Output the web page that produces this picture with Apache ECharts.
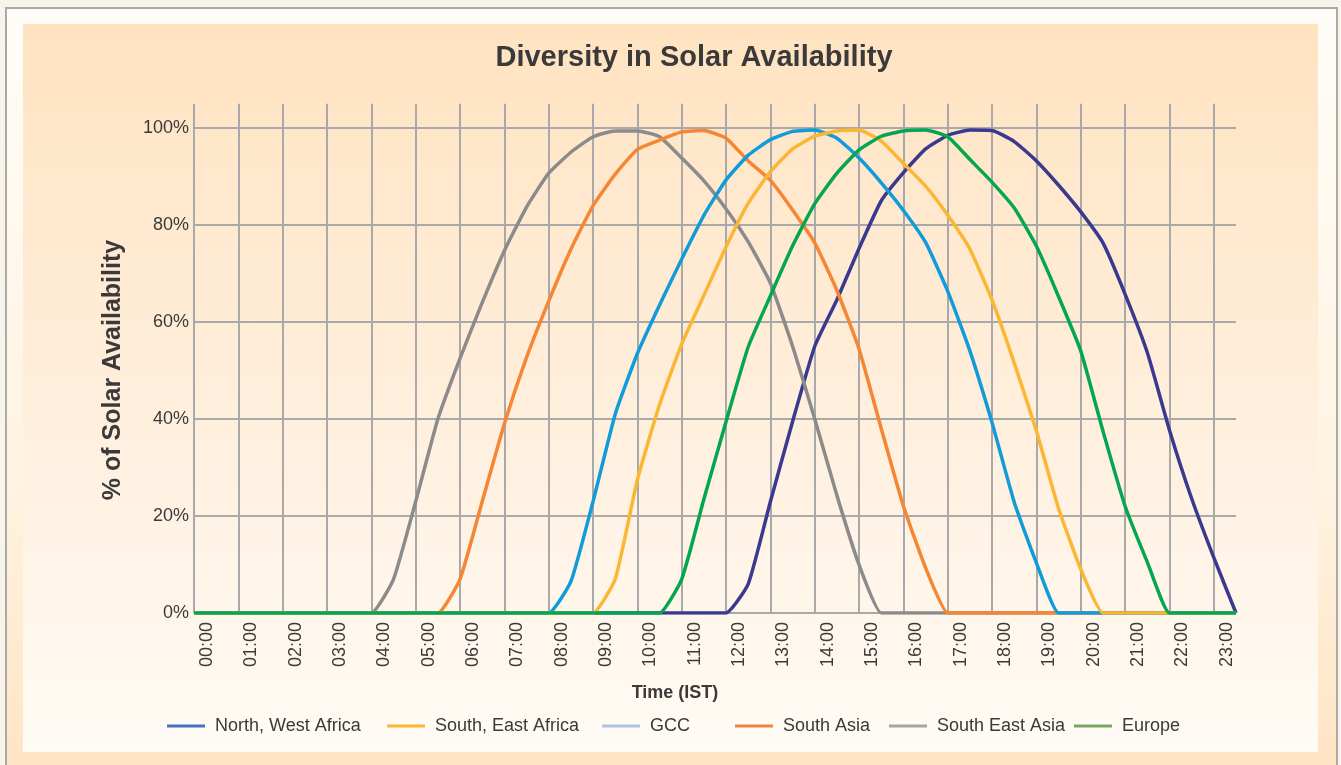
<!DOCTYPE html>
<html>
<head>
<meta charset="utf-8">
<script src="https://cdn.jsdelivr.net/npm/echarts@6/dist/echarts.min.js"></script>
<style>
  html, body { margin: 0; padding: 0; width: 1341px; height: 765px; overflow: hidden; background: #f8f4ea; }
  #outer { position: absolute; left: 5px; top: 7px; width: 1329px; height: 780px; border: 2px solid #a9a9a9; border-bottom: none;
           background: linear-gradient(to bottom, #fffdf8 0%, #fff3e2 60%, #ffe3c1 100%); }
  #inner { position: absolute; left: 23px; top: 24px; width: 1295px; height: 728px;
           background: linear-gradient(to bottom, #ffe3c1 0%, #ffeedb 50%, #fffbf5 100%); }
  #chart { position: absolute; left: 0; top: 0; width: 1341px; height: 765px; }
</style>
</head>
<body>
<div id="outer"></div>
<div id="inner"></div>
<div id="chart"></div>
<script>
// Time points (hours, IST), half-hourly
const hours = [0,0.5,1,1.5,2,2.5,3,3.5,4,4.5,5,5.5,6,6.5,7,7.5,8,8.5,9,9.5,10,10.5,11,11.5,
               12,12.5,13,13.5,14,14.5,15,15.5,16,16.5,17,17.5,18,18.5,19,19.5,20,20.5,21,21.5,22,22.5,23,23.5];
const tickLabels = ['00:00','01:00','02:00','03:00','04:00','05:00','06:00','07:00','08:00','09:00','10:00','11:00',
                    '12:00','13:00','14:00','15:00','16:00','17:00','18:00','19:00','20:00','21:00','22:00','23:00'];
const yTicks = [0,20,40,60,80,100];

// % of solar availability per region
const northWestAfrica = [0,0,0,0,0,0,0,0,0,0, 0,0,0,0,0,0,0,0,0,0, 0,0,0,0,
  0,6,23,39.5,55,64.6,75.2,85,90.8,95.7,98.5,99.6,99.5,97.2,93.2,88.2,82.7,76.3,65.7,53.7,37.7,23.6,11.4,0];
const southEastAfrica = [0,0,0,0,0,0,0,0,0,0, 0,0,0,0,0,0,0,0,
  0,7,27.5,43,55.5,65.5,75.5,84.5,91,95.7,98.3,99.4,99.6,97.3,92.7,88,82,75,64.5,51.5,37.5,21.5,9,0,
  0,0,0,0,0,0];
const gcc = [0,0,0,0,0,0,0,0,0,0, 0,0,0,0,0,0,
  0,6.5,23,41,53.5,63.5,73,82,89.3,94.4,97.6,99.3,99.6,97.9,93.8,88.7,83,76.4,66.3,54,39.2,22.8,10.3,0,
  0,0,0,0,0,0,0,0];
const southAsia = [0,0,0,0,0,0,0,0,0,0, 0,
  0,7,23,39,52.7,64.3,75,84,90.5,95.6,97.5,99.2,99.5,97.9,93.2,89.2,83.1,76.3,66.5,54.4,38,22,9.3,0,
  0,0,0,0,0,0,0,0,0,0, 0,0,0];
const southEastAsia = [0,0,0,0,0,0,0,0,
  0,7,23,40,52.5,64,74.7,83.7,90.7,95,98.2,99.4,99.4,98.2,93.8,89.1,83.3,76.5,68,55,40,24.2,9.9,0,
  0,0,0,0,0,0,0,0,0,0, 0,0,0,0,0,0];
const europe = [0,0,0,0,0,0,0,0,0,0, 0,0,0,0,0,0,0,0,0,0, 0,
  0,7,23.5,39.5,54.9,65.4,75.7,84.4,90.7,95.5,98.3,99.4,99.6,98.2,93.5,88.8,83.5,75.6,65.2,54,37.5,22,10.5,0,
  0,0,0];

const seriesNames = ['North, West Africa','South, East Africa','GCC','South Asia','South East Asia','Europe'];
const seriesData = [northWestAfrica, southEastAfrica, gcc, southAsia, southEastAsia, europe];
const lineColors = ['#3a3990','#fbb634','#129bd9','#f58634','#8b8b8b','#05a651'];
const legendColors = ['#4472c4','#fbb732','#a9c4e4','#ef8342','#a5a5a5','#77a861'];
const seriesZ = [2,6,5,4,3,7];
const legendLeft = [167,387,602,735,889,1074];

const FONT = '"Liberation Sans", Arial, sans-serif';
const GRID = '#a9a9a9';

const chart = echarts.init(document.getElementById('chart'), null, {renderer: 'canvas'});

const xSplitColors = tickLabels.map(() => GRID).concat(['rgba(0,0,0,0)']);
const ySplitColors = yTicks.map(() => GRID).concat(['rgba(0,0,0,0)']);

const option = {
  backgroundColor: 'transparent',
  animation: false,
  textStyle: { fontFamily: FONT },
  title: {
    text: 'Diversity in Solar Availability',
    left: 689, top: 38, textAlign: 'center',
    textStyle: { fontFamily: FONT, fontSize: 29, fontWeight: 'bold', color: '#3a3a3a' }
  },
  grid: [
    { left: 194, right: 105, top: 103.75, bottom: 152 },
    { left: 207, right: 92, top: 103.75, bottom: 152 }
  ],
  xAxis: [
    { type: 'value', gridIndex: 0, min: 0, max: 23.5, interval: 1,
      axisLine: { show: false }, axisTick: { show: false }, axisLabel: { show: false },
      splitLine: { show: true, lineStyle: { color: xSplitColors, width: 2 } } },
    { type: 'value', gridIndex: 1, min: 0, max: 23.5, interval: 1,
      axisLine: { show: false }, axisTick: { show: false }, splitLine: { show: false },
      axisLabel: { show: true, rotate: 90, margin: 9, fontSize: 18, color: '#3a3a3a', fontFamily: FONT,
        formatter: v => (Number.isInteger(v) && tickLabels[v] !== undefined) ? tickLabels[v] : '' } }
  ],
  yAxis: [
    { type: 'value', gridIndex: 0, min: 0, max: 105, interval: 20,
      axisLine: { show: false }, axisTick: { show: false },
      axisLabel: { margin: 5, fontSize: 18, color: '#3a3a3a', fontFamily: FONT,
        formatter: v => (v <= 100 ? v + '%' : '') },
      splitLine: { show: true, lineStyle: { color: ySplitColors, width: 2 } } },
    { type: 'value', gridIndex: 1, min: 0, max: 105, show: false }
  ],
  legend: seriesNames.map((n, i) => ({
    data: [{ name: n, itemStyle: { color: legendColors[i] } }],
    left: legendLeft[i], top: 716, padding: 0,
    icon: 'rect', itemWidth: 38, itemHeight: 3, selectedMode: false,
    textStyle: { fontFamily: FONT, fontSize: 18, color: '#3a3a3a', lineHeight: 20, padding: [0, 0, 0, 5] }
  })),
  graphic: [
    { type: 'text', x: 113, y: 370, rotation: Math.PI / 2, silent: true,
      style: { text: '% of Solar Availability', fontFamily: FONT, fontSize: 25, fontWeight: 'bold',
               fill: '#3a3a3a', align: 'center', verticalAlign: 'middle' } },
    { type: 'text', x: 675, y: 693, silent: true,
      style: { text: 'Time (IST)', fontFamily: FONT, fontSize: 18, fontWeight: 'bold',
               fill: '#3a3a3a', align: 'center', verticalAlign: 'middle' } }
  ],
  series: seriesNames.map((n, i) => ({
    name: n, type: 'line', xAxisIndex: 0, yAxisIndex: 0, z: seriesZ[i],
    symbol: 'none', smooth: 0.15,
    lineStyle: { color: lineColors[i], width: 3.5 },
    itemStyle: { color: lineColors[i] },
    data: hours.map((h, k) => [h, seriesData[i][k]])
  }))
};
chart.setOption(option);
</script>
</body>
</html>
